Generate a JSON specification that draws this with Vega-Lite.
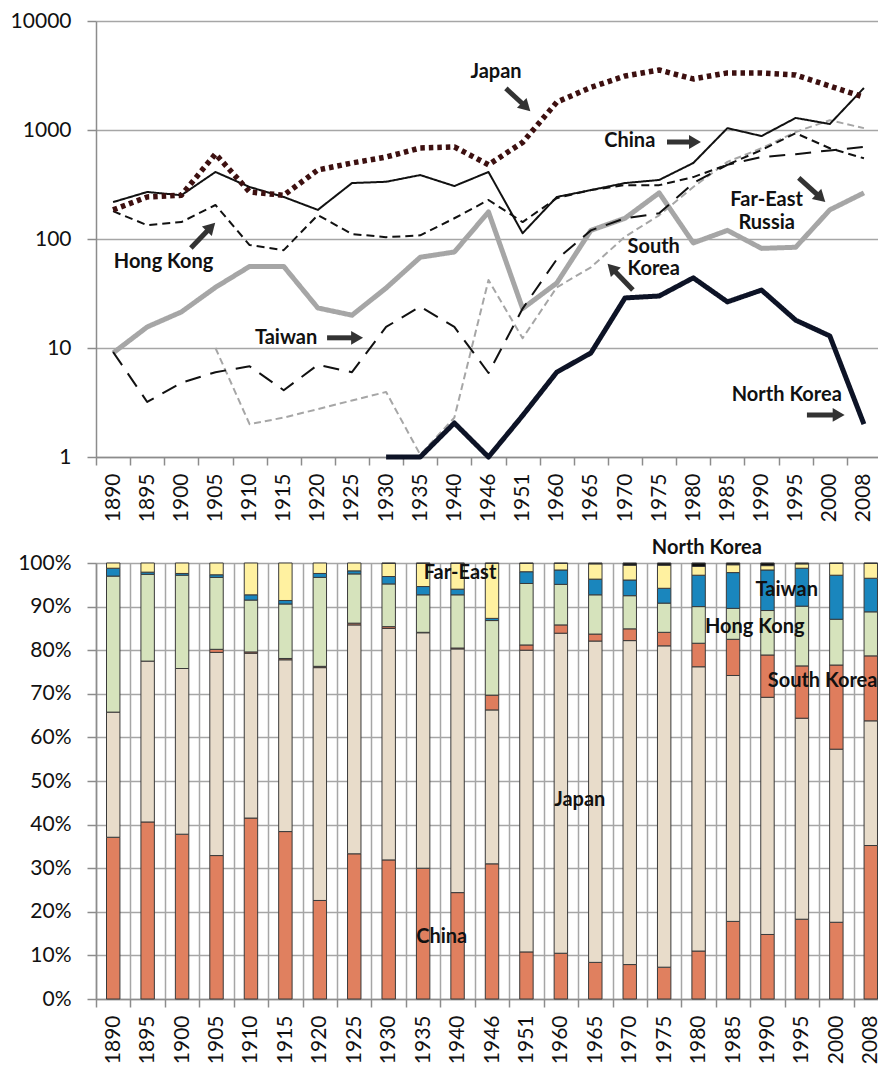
{
  "$schema": "https://vega.github.io/schema/vega-lite/v6.json",
  "background": "white",
  "padding": {"left": 10, "top": 10, "right": 0, "bottom": 0},
  "bounds": "flush",
  "spacing": 106,
  "resolve": {"scale": {"color": "independent", "x": "independent", "y": "independent"}},
  "config": {
    "view": {"stroke": null},
    "font": "Lato",
    "axis": {"labelFont": "Lato", "labelFontSize": 21, "labelColor": "#111111", "domainColor": "#8c8c8c", "tickColor": "#8c8c8c", "gridColor": "#a6a6a6", "domainWidth": 1.5, "tickWidth": 1.5, "gridWidth": 1.5, "tickSize": 9, "labelPadding": 16}
  },
  "datasets": {
    "lines": [
      {"series": "Far-East Russia", "year": 1890, "value": 9.0}, {"series": "Far-East Russia", "year": 1895, "value": 15.6}, {"series": "Far-East Russia", "year": 1900, "value": 21.4}, {"series": "Far-East Russia", "year": 1905, "value": 36}, {"series": "Far-East Russia", "year": 1910, "value": 56}, {"series": "Far-East Russia", "year": 1915, "value": 56}, {"series": "Far-East Russia", "year": 1920, "value": 23.3}, {"series": "Far-East Russia", "year": 1925, "value": 20}, {"series": "Far-East Russia", "year": 1930, "value": 35.5}, {"series": "Far-East Russia", "year": 1935, "value": 68}, {"series": "Far-East Russia", "year": 1940, "value": 76}, {"series": "Far-East Russia", "year": 1946, "value": 177}, {"series": "Far-East Russia", "year": 1951, "value": 23}, {"series": "Far-East Russia", "year": 1960, "value": 39.4}, {"series": "Far-East Russia", "year": 1965, "value": 120}, {"series": "Far-East Russia", "year": 1970, "value": 155}, {"series": "Far-East Russia", "year": 1975, "value": 265}, {"series": "Far-East Russia", "year": 1980, "value": 92}, {"series": "Far-East Russia", "year": 1985, "value": 120}, {"series": "Far-East Russia", "year": 1990, "value": 82}, {"series": "Far-East Russia", "year": 1995, "value": 84}, {"series": "Far-East Russia", "year": 2000, "value": 185}, {"series": "Far-East Russia", "year": 2008, "value": 265},
      {"series": "South Korea", "year": 1905, "value": 10}, {"series": "South Korea", "year": 1910, "value": 2.0}, {"series": "South Korea", "year": 1915, "value": 2.3}, {"series": "South Korea", "year": 1920, "value": 2.75}, {"series": "South Korea", "year": 1925, "value": 3.3}, {"series": "South Korea", "year": 1930, "value": 3.95}, {"series": "South Korea", "year": 1935, "value": 1.05}, {"series": "South Korea", "year": 1940, "value": 2.3}, {"series": "South Korea", "year": 1946, "value": 42}, {"series": "South Korea", "year": 1951, "value": 12.3}, {"series": "South Korea", "year": 1960, "value": 36}, {"series": "South Korea", "year": 1965, "value": 55}, {"series": "South Korea", "year": 1970, "value": 105}, {"series": "South Korea", "year": 1975, "value": 165}, {"series": "South Korea", "year": 1980, "value": 300}, {"series": "South Korea", "year": 1985, "value": 510}, {"series": "South Korea", "year": 1990, "value": 680}, {"series": "South Korea", "year": 1995, "value": 960}, {"series": "South Korea", "year": 2000, "value": 1230}, {"series": "South Korea", "year": 2008, "value": 1040},
      {"series": "Taiwan", "year": 1890, "value": 9.2}, {"series": "Taiwan", "year": 1895, "value": 3.2}, {"series": "Taiwan", "year": 1900, "value": 4.8}, {"series": "Taiwan", "year": 1905, "value": 6.0}, {"series": "Taiwan", "year": 1910, "value": 6.8}, {"series": "Taiwan", "year": 1915, "value": 4.1}, {"series": "Taiwan", "year": 1920, "value": 7.0}, {"series": "Taiwan", "year": 1925, "value": 6.0}, {"series": "Taiwan", "year": 1930, "value": 15.6}, {"series": "Taiwan", "year": 1935, "value": 24}, {"series": "Taiwan", "year": 1940, "value": 15.6}, {"series": "Taiwan", "year": 1946, "value": 5.9}, {"series": "Taiwan", "year": 1951, "value": 23}, {"series": "Taiwan", "year": 1960, "value": 65}, {"series": "Taiwan", "year": 1965, "value": 120}, {"series": "Taiwan", "year": 1970, "value": 155}, {"series": "Taiwan", "year": 1975, "value": 172}, {"series": "Taiwan", "year": 1980, "value": 326}, {"series": "Taiwan", "year": 1985, "value": 480}, {"series": "Taiwan", "year": 1990, "value": 565}, {"series": "Taiwan", "year": 1995, "value": 600}, {"series": "Taiwan", "year": 2000, "value": 650}, {"series": "Taiwan", "year": 2008, "value": 700},
      {"series": "Hong Kong", "year": 1890, "value": 180}, {"series": "Hong Kong", "year": 1895, "value": 134}, {"series": "Hong Kong", "year": 1900, "value": 143}, {"series": "Hong Kong", "year": 1905, "value": 205}, {"series": "Hong Kong", "year": 1910, "value": 88}, {"series": "Hong Kong", "year": 1915, "value": 79}, {"series": "Hong Kong", "year": 1920, "value": 166}, {"series": "Hong Kong", "year": 1925, "value": 111}, {"series": "Hong Kong", "year": 1930, "value": 104}, {"series": "Hong Kong", "year": 1935, "value": 108}, {"series": "Hong Kong", "year": 1940, "value": 155}, {"series": "Hong Kong", "year": 1946, "value": 228}, {"series": "Hong Kong", "year": 1951, "value": 143}, {"series": "Hong Kong", "year": 1960, "value": 237}, {"series": "Hong Kong", "year": 1965, "value": 281}, {"series": "Hong Kong", "year": 1970, "value": 312}, {"series": "Hong Kong", "year": 1975, "value": 312}, {"series": "Hong Kong", "year": 1980, "value": 370}, {"series": "Hong Kong", "year": 1985, "value": 480}, {"series": "Hong Kong", "year": 1990, "value": 655}, {"series": "Hong Kong", "year": 1995, "value": 935}, {"series": "Hong Kong", "year": 2000, "value": 680}, {"series": "Hong Kong", "year": 2008, "value": 550},
      {"series": "China", "year": 1890, "value": 218}, {"series": "China", "year": 1895, "value": 270}, {"series": "China", "year": 1900, "value": 252}, {"series": "China", "year": 1905, "value": 412}, {"series": "China", "year": 1910, "value": 300}, {"series": "China", "year": 1915, "value": 243}, {"series": "China", "year": 1920, "value": 185}, {"series": "China", "year": 1925, "value": 326}, {"series": "China", "year": 1930, "value": 335}, {"series": "China", "year": 1935, "value": 386}, {"series": "China", "year": 1940, "value": 306}, {"series": "China", "year": 1946, "value": 412}, {"series": "China", "year": 1951, "value": 113}, {"series": "China", "year": 1960, "value": 243}, {"series": "China", "year": 1965, "value": 281}, {"series": "China", "year": 1970, "value": 326}, {"series": "China", "year": 1975, "value": 348}, {"series": "China", "year": 1980, "value": 498}, {"series": "China", "year": 1985, "value": 1040}, {"series": "China", "year": 1990, "value": 880}, {"series": "China", "year": 1995, "value": 1290}, {"series": "China", "year": 2000, "value": 1135}, {"series": "China", "year": 2008, "value": 2430},
      {"series": "North Korea", "year": 1930, "value": 1}, {"series": "North Korea", "year": 1935, "value": 1}, {"series": "North Korea", "year": 1940, "value": 2.05}, {"series": "North Korea", "year": 1946, "value": 1}, {"series": "North Korea", "year": 1951, "value": 2.4}, {"series": "North Korea", "year": 1960, "value": 6}, {"series": "North Korea", "year": 1965, "value": 9}, {"series": "North Korea", "year": 1970, "value": 28.8}, {"series": "North Korea", "year": 1975, "value": 30}, {"series": "North Korea", "year": 1980, "value": 44}, {"series": "North Korea", "year": 1985, "value": 26.5}, {"series": "North Korea", "year": 1990, "value": 34}, {"series": "North Korea", "year": 1995, "value": 18}, {"series": "North Korea", "year": 2000, "value": 12.9}, {"series": "North Korea", "year": 2008, "value": 2.0},
      {"series": "Japan", "year": 1890, "value": 185}, {"series": "Japan", "year": 1895, "value": 243}, {"series": "Japan", "year": 1900, "value": 252}, {"series": "Japan", "year": 1905, "value": 603}, {"series": "Japan", "year": 1910, "value": 270}, {"series": "Japan", "year": 1915, "value": 252}, {"series": "Japan", "year": 1920, "value": 430}, {"series": "Japan", "year": 1925, "value": 498}, {"series": "Japan", "year": 1930, "value": 565}, {"series": "Japan", "year": 1935, "value": 684}, {"series": "Japan", "year": 1940, "value": 700}, {"series": "Japan", "year": 1946, "value": 480}, {"series": "Japan", "year": 1951, "value": 770}, {"series": "Japan", "year": 1960, "value": 1800}, {"series": "Japan", "year": 1965, "value": 2460}, {"series": "Japan", "year": 1970, "value": 3130}, {"series": "Japan", "year": 1975, "value": 3550}, {"series": "Japan", "year": 1980, "value": 2940}, {"series": "Japan", "year": 1985, "value": 3340}, {"series": "Japan", "year": 1990, "value": 3340}, {"series": "Japan", "year": 1995, "value": 3200}, {"series": "Japan", "year": 2000, "value": 2530}, {"series": "Japan", "year": 2008, "value": 2000}
    ],
    "notes": [
      {"label": "Japan", "xi": 11.22, "v": 3404},
      {"label": "China", "xi": 15.14, "v": 793},
      {"label": "Hong Kong", "xi": 1.48, "v": 61.5},
      {"label": "Taiwan", "xi": 5.07, "v": 12.4},
      {"label": "Far-East", "xi": 19.15, "v": 226},
      {"label": "Russia", "xi": 19.15, "v": 140},
      {"label": "South", "xi": 15.84, "v": 84.5},
      {"label": "Korea", "xi": 15.84, "v": 53},
      {"label": "North Korea", "xi": 19.74, "v": 3.7}
    ],
    "arrows": [
      {"arrow": "Japan", "xi": 11.51, "v": 2410, "xi2": 12.10, "v2": 1625},
      {"arrow": "China", "xi": 16.23, "v": 776, "xi2": 17.05, "v2": 776},
      {"arrow": "Hong Kong", "xi": 2.28, "v": 82.7, "xi2": 2.87, "v2": 129},
      {"arrow": "Taiwan", "xi": 6.27, "v": 12.4, "xi2": 7.15, "v2": 12.4},
      {"arrow": "Far-East Russia", "xi": 20.09, "v": 363, "xi2": 20.74, "v2": 238},
      {"arrow": "South Korea", "xi": 15.23, "v": 34.0, "xi2": 14.61, "v2": 54.2},
      {"arrow": "North Korea", "xi": 20.33, "v": 2.43, "xi2": 21.26, "v2": 2.43}
    ],
    "shares": [
      {"year": 1890, "region": "China", "share": 37.1}, {"year": 1890, "region": "Japan", "share": 28.7}, {"year": 1890, "region": "Hong Kong", "share": 31.2}, {"year": 1890, "region": "Taiwan", "share": 1.8}, {"year": 1890, "region": "Far-East Russia", "share": 1.2},
      {"year": 1895, "region": "China", "share": 40.6}, {"year": 1895, "region": "Japan", "share": 36.9}, {"year": 1895, "region": "Hong Kong", "share": 19.9}, {"year": 1895, "region": "Taiwan", "share": 0.5}, {"year": 1895, "region": "Far-East Russia", "share": 2.1},
      {"year": 1900, "region": "China", "share": 37.8}, {"year": 1900, "region": "Japan", "share": 38.0}, {"year": 1900, "region": "Hong Kong", "share": 21.4}, {"year": 1900, "region": "Taiwan", "share": 0.4}, {"year": 1900, "region": "Far-East Russia", "share": 2.4},
      {"year": 1905, "region": "China", "share": 32.9}, {"year": 1905, "region": "Japan", "share": 46.6}, {"year": 1905, "region": "South Korea", "share": 0.7}, {"year": 1905, "region": "Hong Kong", "share": 16.5}, {"year": 1905, "region": "Taiwan", "share": 0.6}, {"year": 1905, "region": "Far-East Russia", "share": 2.7},
      {"year": 1910, "region": "China", "share": 41.5}, {"year": 1910, "region": "Japan", "share": 37.8}, {"year": 1910, "region": "South Korea", "share": 0.3}, {"year": 1910, "region": "Hong Kong", "share": 11.9}, {"year": 1910, "region": "Taiwan", "share": 1.2}, {"year": 1910, "region": "Far-East Russia", "share": 7.3},
      {"year": 1915, "region": "China", "share": 38.4}, {"year": 1915, "region": "Japan", "share": 39.4}, {"year": 1915, "region": "South Korea", "share": 0.3}, {"year": 1915, "region": "Hong Kong", "share": 12.5}, {"year": 1915, "region": "Taiwan", "share": 0.8}, {"year": 1915, "region": "Far-East Russia", "share": 8.6},
      {"year": 1920, "region": "China", "share": 22.6}, {"year": 1920, "region": "Japan", "share": 53.4}, {"year": 1920, "region": "South Korea", "share": 0.3}, {"year": 1920, "region": "Hong Kong", "share": 20.4}, {"year": 1920, "region": "Taiwan", "share": 0.9}, {"year": 1920, "region": "Far-East Russia", "share": 2.4},
      {"year": 1925, "region": "China", "share": 33.3}, {"year": 1925, "region": "Japan", "share": 52.5}, {"year": 1925, "region": "South Korea", "share": 0.4}, {"year": 1925, "region": "Hong Kong", "share": 11.3}, {"year": 1925, "region": "Taiwan", "share": 0.7}, {"year": 1925, "region": "Far-East Russia", "share": 1.8},
      {"year": 1930, "region": "China", "share": 31.9}, {"year": 1930, "region": "Japan", "share": 53.1}, {"year": 1930, "region": "South Korea", "share": 0.4}, {"year": 1930, "region": "Hong Kong", "share": 9.8}, {"year": 1930, "region": "Taiwan", "share": 1.7}, {"year": 1930, "region": "Far-East Russia", "share": 3.0}, {"year": 1930, "region": "North Korea", "share": 0.1},
      {"year": 1935, "region": "China", "share": 30.0}, {"year": 1935, "region": "Japan", "share": 54.0}, {"year": 1935, "region": "South Korea", "share": 0.1}, {"year": 1935, "region": "Hong Kong", "share": 8.6}, {"year": 1935, "region": "Taiwan", "share": 1.9}, {"year": 1935, "region": "Far-East Russia", "share": 5.3}, {"year": 1935, "region": "North Korea", "share": 0.1},
      {"year": 1940, "region": "China", "share": 24.4}, {"year": 1940, "region": "Japan", "share": 55.9}, {"year": 1940, "region": "South Korea", "share": 0.2}, {"year": 1940, "region": "Hong Kong", "share": 12.2}, {"year": 1940, "region": "Taiwan", "share": 1.3}, {"year": 1940, "region": "Far-East Russia", "share": 5.9}, {"year": 1940, "region": "North Korea", "share": 0.1},
      {"year": 1946, "region": "China", "share": 31.0}, {"year": 1946, "region": "Japan", "share": 35.3}, {"year": 1946, "region": "South Korea", "share": 3.4}, {"year": 1946, "region": "Hong Kong", "share": 17.1}, {"year": 1946, "region": "Taiwan", "share": 0.5}, {"year": 1946, "region": "Far-East Russia", "share": 12.6}, {"year": 1946, "region": "North Korea", "share": 0.1},
      {"year": 1951, "region": "China", "share": 10.8}, {"year": 1951, "region": "Japan", "share": 69.2}, {"year": 1951, "region": "South Korea", "share": 1.2}, {"year": 1951, "region": "Hong Kong", "share": 14.1}, {"year": 1951, "region": "Taiwan", "share": 2.7}, {"year": 1951, "region": "Far-East Russia", "share": 1.9}, {"year": 1951, "region": "North Korea", "share": 0.1},
      {"year": 1960, "region": "China", "share": 10.5}, {"year": 1960, "region": "Japan", "share": 73.4}, {"year": 1960, "region": "South Korea", "share": 1.9}, {"year": 1960, "region": "Hong Kong", "share": 9.3}, {"year": 1960, "region": "Taiwan", "share": 3.3}, {"year": 1960, "region": "Far-East Russia", "share": 1.5}, {"year": 1960, "region": "North Korea", "share": 0.1},
      {"year": 1965, "region": "China", "share": 8.4}, {"year": 1965, "region": "Japan", "share": 73.7}, {"year": 1965, "region": "South Korea", "share": 1.6}, {"year": 1965, "region": "Hong Kong", "share": 9.0}, {"year": 1965, "region": "Taiwan", "share": 3.6}, {"year": 1965, "region": "Far-East Russia", "share": 3.5}, {"year": 1965, "region": "North Korea", "share": 0.2},
      {"year": 1970, "region": "China", "share": 7.9}, {"year": 1970, "region": "Japan", "share": 74.3}, {"year": 1970, "region": "South Korea", "share": 2.7}, {"year": 1970, "region": "Hong Kong", "share": 7.6}, {"year": 1970, "region": "Taiwan", "share": 3.6}, {"year": 1970, "region": "Far-East Russia", "share": 3.4}, {"year": 1970, "region": "North Korea", "share": 0.5},
      {"year": 1975, "region": "China", "share": 7.3}, {"year": 1975, "region": "Japan", "share": 73.7}, {"year": 1975, "region": "South Korea", "share": 3.1}, {"year": 1975, "region": "Hong Kong", "share": 6.7}, {"year": 1975, "region": "Taiwan", "share": 3.4}, {"year": 1975, "region": "Far-East Russia", "share": 5.3}, {"year": 1975, "region": "North Korea", "share": 0.5},
      {"year": 1980, "region": "China", "share": 11.0}, {"year": 1980, "region": "Japan", "share": 65.2}, {"year": 1980, "region": "South Korea", "share": 5.4}, {"year": 1980, "region": "Hong Kong", "share": 8.4}, {"year": 1980, "region": "Taiwan", "share": 7.2}, {"year": 1980, "region": "Far-East Russia", "share": 2.0}, {"year": 1980, "region": "North Korea", "share": 0.8},
      {"year": 1985, "region": "China", "share": 17.8}, {"year": 1985, "region": "Japan", "share": 56.4}, {"year": 1985, "region": "South Korea", "share": 8.3}, {"year": 1985, "region": "Hong Kong", "share": 7.1}, {"year": 1985, "region": "Taiwan", "share": 8.2}, {"year": 1985, "region": "Far-East Russia", "share": 1.8}, {"year": 1985, "region": "North Korea", "share": 0.4},
      {"year": 1990, "region": "China", "share": 14.8}, {"year": 1990, "region": "Japan", "share": 54.4}, {"year": 1990, "region": "South Korea", "share": 9.7}, {"year": 1990, "region": "Hong Kong", "share": 10.2}, {"year": 1990, "region": "Taiwan", "share": 9.3}, {"year": 1990, "region": "Far-East Russia", "share": 1.0}, {"year": 1990, "region": "North Korea", "share": 0.6},
      {"year": 1995, "region": "China", "share": 18.3}, {"year": 1995, "region": "Japan", "share": 46.1}, {"year": 1995, "region": "South Korea", "share": 12.0}, {"year": 1995, "region": "Hong Kong", "share": 13.7}, {"year": 1995, "region": "Taiwan", "share": 8.7}, {"year": 1995, "region": "Far-East Russia", "share": 1.0}, {"year": 1995, "region": "North Korea", "share": 0.2},
      {"year": 2000, "region": "China", "share": 17.6}, {"year": 2000, "region": "Japan", "share": 39.7}, {"year": 2000, "region": "South Korea", "share": 19.3}, {"year": 2000, "region": "Hong Kong", "share": 10.5}, {"year": 2000, "region": "Taiwan", "share": 10.1}, {"year": 2000, "region": "Far-East Russia", "share": 2.7}, {"year": 2000, "region": "North Korea", "share": 0.1},
      {"year": 2008, "region": "China", "share": 35.2}, {"year": 2008, "region": "Japan", "share": 28.6}, {"year": 2008, "region": "South Korea", "share": 14.9}, {"year": 2008, "region": "Hong Kong", "share": 10.1}, {"year": 2008, "region": "Taiwan", "share": 7.7}, {"year": 2008, "region": "Far-East Russia", "share": 3.4}, {"year": 2008, "region": "North Korea", "share": 0.1}
    ],
    "notes2": [
      {"label": "Far-East", "xi": 10.07, "yv": 0.977},
      {"label": "North Korea", "xi": 17.24, "yv": 1.034},
      {"label": "Taiwan", "xi": 19.56, "yv": 0.938},
      {"label": "Hong Kong", "xi": 18.63, "yv": 0.853},
      {"label": "South Korea", "xi": 20.6, "yv": 0.729},
      {"label": "Japan", "xi": 13.55, "yv": 0.456},
      {"label": "China", "xi": 9.54, "yv": 0.142}
    ]
  },
  "vconcat": [
    {
      "width": 785,
      "height": 436,
      "layer": [
        {
          "data": {"name": "lines"},
          "mark": {"type": "line", "strokeCap": "butt", "strokeJoin": "round"},
          "encoding": {
            "x": {"field": "year", "type": "ordinal", "title": null, "bandPosition": 0.5,
                  "scale": {"type": "band", "paddingInner": 0, "paddingOuter": 0},
                  "axis": {"labelAngle": -90, "tickBand": "extent", "grid": false, "labelPadding": 8, "tickSize": 8}},
            "y": {"field": "value", "type": "quantitative", "title": null,
                  "scale": {"type": "log", "domain": [1, 10000]},
                  "axis": {"values": [1, 10, 100, 1000, 10000], "format": "d", "grid": true}},
            "color": {"field": "series", "type": "nominal", "legend": null,
                      "scale": {"domain": ["Far-East Russia", "South Korea", "Taiwan", "Hong Kong", "China", "North Korea", "Japan"],
                                "range": ["#a6a6a6", "#a6a6a6", "#111111", "#111111", "#111111", "#0d1326", "#3d1010"]}},
            "strokeDash": {"field": "series", "type": "nominal", "legend": null,
                           "scale": {"domain": ["Far-East Russia", "South Korea", "Taiwan", "Hong Kong", "China", "North Korea", "Japan"],
                                     "range": [[1, 0], [7, 4], [16, 10], [8, 5], [1, 0], [1, 0], [4.5, 4]]}},
            "strokeWidth": {"field": "series", "type": "nominal", "legend": null,
                            "scale": {"type": "ordinal", "domain": ["Far-East Russia", "South Korea", "Taiwan", "Hong Kong", "China", "North Korea", "Japan"],
                                      "range": [5, 2, 2, 2, 2, 5, 5.5]}}
          }
        },
        {
          "data": {"name": "notes"},
          "mark": {"type": "text", "font": "Lato", "fontWeight": "bold", "fontSize": 20, "color": "#111111", "align": "center", "baseline": "middle"},
          "encoding": {
            "x": {"field": "xi", "type": "quantitative", "title": null, "axis": null, "scale": {"domain": [-0.5, 22.5], "nice": false, "zero": false}},
            "y": {"field": "v", "type": "quantitative", "title": null, "scale": {"type": "log", "domain": [1, 10000]}},
            "text": {"field": "label"}
          }
        },
        {
          "data": {"name": "arrows"},
          "mark": {"type": "rule", "strokeWidth": 5, "color": "#333333"},
          "encoding": {
            "x": {"field": "xi", "type": "quantitative", "title": null, "axis": null, "scale": {"domain": [-0.5, 22.5], "nice": false, "zero": false}},
            "x2": {"field": "xi2"},
            "y": {"field": "v", "type": "quantitative", "title": null, "scale": {"type": "log", "domain": [1, 10000]}},
            "y2": {"field": "v2"}
          }
        },
        {
          "data": {"name": "arrows"},
          "mark": {"type": "point", "shape": "triangle-right", "filled": true, "size": 190, "color": "#333333", "opacity": 1},
          "encoding": {
            "x": {"field": "xi2", "type": "quantitative", "title": null, "axis": null, "scale": {"domain": [-0.5, 22.5], "nice": false, "zero": false}},
            "y": {"field": "v2", "type": "quantitative", "title": null, "scale": {"type": "log", "domain": [1, 10000]}},
            "angle": {"field": "arrow", "type": "nominal", "legend": null,
                      "scale": {"type": "ordinal", "domain": ["Japan", "China", "Hong Kong", "Taiwan", "Far-East Russia", "South Korea", "North Korea"],
                                "range": [44, 0, 314, 0, 43, 226, 0]}}
          }
        }
      ],
      "resolve": {"scale": {"x": "independent"}, "axis": {"x": "independent"}}
    },
    {
      "width": 792,
      "height": 436,
      "layer": [
        {
          "data": {"name": "shares"},
          "transform": [
            {"calculate": "indexof(['China', 'Japan', 'South Korea', 'Hong Kong', 'Taiwan', 'Far-East Russia', 'North Korea'], datum.region)", "as": "stackOrder"}
          ],
          "mark": {"type": "bar", "width": {"band": 0.39}, "stroke": "#3a3a3a", "strokeWidth": 1},
          "encoding": {
            "x": {"field": "year", "type": "ordinal", "title": null,
                  "scale": {"type": "band", "paddingInner": 0, "paddingOuter": 0},
                  "axis": {"labelAngle": -90, "tickBand": "extent", "grid": true, "labelPadding": 8, "tickSize": 8}},
            "y": {"field": "share", "type": "quantitative", "stack": "normalize", "title": null,
                  "scale": {"domain": [0, 1]},
                  "axis": {"values": [0, 0.1, 0.2, 0.3, 0.4, 0.5, 0.6, 0.7, 0.8, 0.9, 1], "format": ".0%", "grid": true}},
            "order": {"field": "stackOrder", "type": "quantitative", "sort": "ascending"},
            "color": {"field": "region", "type": "nominal", "legend": null,
                      "scale": {"domain": ["China", "Japan", "South Korea", "Hong Kong", "Taiwan", "Far-East Russia", "North Korea"],
                                "range": ["#e0805f", "#e8dcca", "#df7d5d", "#d6e3bc", "#1a86bd", "#fff1a0", "#111111"]}}
          }
        },
        {
          "data": {"name": "notes2"},
          "mark": {"type": "text", "font": "Lato", "fontWeight": "bold", "fontSize": 20, "color": "#111111", "align": "center", "baseline": "middle"},
          "encoding": {
            "x": {"field": "xi", "type": "quantitative", "title": null, "axis": null, "scale": {"domain": [-0.5, 22.5], "nice": false, "zero": false}},
            "y": {"field": "yv", "type": "quantitative", "title": null, "scale": {"domain": [0, 1]}},
            "text": {"field": "label"}
          }
        }
      ],
      "resolve": {"scale": {"x": "independent"}, "axis": {"x": "independent"}}
    }
  ]
}
